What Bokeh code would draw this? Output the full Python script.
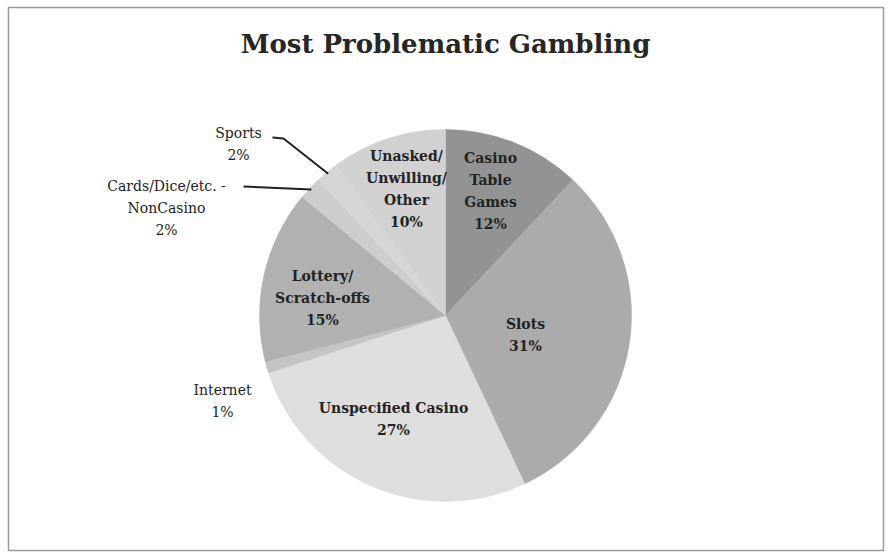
import numpy as np
from bokeh.plotting import figure
from bokeh.models import Range1d
from bokeh.embed import file_html
from bokeh.resources import INLINE
from bokeh.core.properties import value

# --- data -------------------------------------------------------------
categories = [
    "Casino Table Games",
    "Slots",
    "Unspecified Casino",
    "Internet",
    "Lottery/Scratch-offs",
    "Cards/Dice/etc. - NonCasino",
    "Sports",
    "Unasked/Unwilling/Other",
]
shares = [12, 31, 27, 1, 15, 2, 2, 10]
slice_colors = ["#939393", "#ababab", "#dedede", "#c4c4c4",
                "#b1b1b1", "#cdcdcd", "#d6d6d6", "#d1d1d1"]
label_words = [
    ["Casino", "Table", "Games"],
    ["Slots"],
    ["Unspecified Casino"],
    ["Internet"],
    ["Lottery/", "Scratch-offs"],
    ["Cards/Dice/etc. -", "NonCasino"],
    ["Sports"],
    ["Unasked/", "Unwilling/", "Other"],
]
label_inside = [True, True, True, False, True, False, False, True]
title_text = "Most Problematic Gambling"

# --- layout (pixel space, y measured downward) ----------------------
W, H = 890, 552
CX, CY, R = 445, 315, 186
LINE_GAP = 22
# first-line position of each label block
label_pos = [(490, 157), (525, 323), (393, 407), (222, 389),
             (322, 275), (166, 185), (238, 132), (406, 155)]
FONT = "DejaVu Serif"


def Y(py):
    return H - py


p = figure(width=W, height=H, x_range=Range1d(0, W), y_range=Range1d(0, H),
           output_backend="svg", toolbar_location=None, min_border=0,
           background_fill_color="white", border_fill_color="white")
p.axis.visible = False
p.grid.visible = False
p.outline_line_color = None

# chart frame
p.quad(left=[8], right=[883], bottom=[Y(550)], top=[Y(7)],
       fill_color=None, line_color="#9a9a9a", line_width=1.5)

# pie wedges: start at 12 o'clock, run clockwise
frac = np.array(shares, dtype=float) / sum(shares)
cum = np.concatenate([[0.0], np.cumsum(frac)])
start = np.pi / 2 - 2 * np.pi * cum[1:]
end = np.pi / 2 - 2 * np.pi * cum[:-1]
p.wedge(x=[CX] * len(shares), y=[Y(CY)] * len(shares), radius=R,
        start_angle=start, end_angle=end, direction="anticlock",
        fill_color=slice_colors, line_color=slice_colors, line_width=0.5)

# mid-angle of each slice, for leader lines
mid = np.pi / 2 - 2 * np.pi * (cum[:-1] + frac / 2)


def edge_point(i, rr=R):
    return CX + rr * np.cos(mid[i]), Y(CY) + rr * np.sin(mid[i])


# leader lines for the two thin slices on the upper left
sx, sy = edge_point(categories.index("Sports"), R - 2)
p.line(x=[272, 283, sx], y=[Y(137), Y(138), sy], line_color="#222222", line_width=2)
cx_, cy_ = edge_point(categories.index("Cards/Dice/etc. - NonCasino"), R - 2)
p.line(x=[243, cx_], y=[Y(186), cy_], line_color="#222222", line_width=2)

# slice labels: name lines followed by the share
xs, ys, txt, bold = [], [], [], []
for words, share, inside, (lx, ly) in zip(label_words, shares, label_inside, label_pos):
    lines = words + [f"{share}%"]
    for k, line in enumerate(lines):
        xs.append(lx)
        ys.append(Y(ly + k * LINE_GAP))
        txt.append(line)
        bold.append("bold" if inside else "normal")

p.text(x=xs, y=ys, text=txt, text_align="center", text_baseline="middle",
       text_font=value(FONT), text_font_style=bold, text_font_size="14px",
       text_color="#232323")

# chart title
p.text(x=[445], y=[Y(43)], text=[title_text], text_align="center",
       text_baseline="middle", text_font=value(FONT), text_font_style="bold",
       text_font_size="26px", text_color="#262626")

open("out.html", "w").write(file_html(p, INLINE))
